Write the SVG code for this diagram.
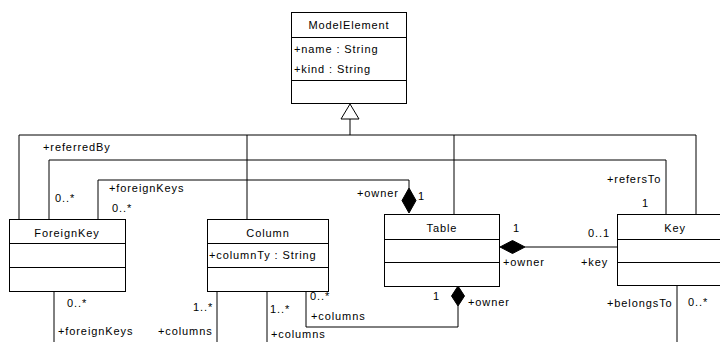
<svg xmlns="http://www.w3.org/2000/svg" width="720" height="342" viewBox="0 0 720 342">
<style>
.box{fill:#fff;stroke:#000;stroke-width:1}
.ln{fill:none;stroke:#000;stroke-width:1}
.dm{fill:#000;stroke:#000;stroke-width:1}
text{font-family:"Liberation Sans",Arial,sans-serif;font-size:11px;letter-spacing:0.9px;fill:#000}
.c{text-anchor:middle}
</style>
<rect width="720" height="342" fill="#fff"/>
<g id="connectors">
<path class="ln" d="M350,119 V135 M19,219 V135 H696 V214 M247,135 V219 M454,135 V214"/>
<path class="ln" d="M49,219 V160 H666 V214"/>
<path class="ln" d="M98,219 V180 H409 V188"/>
<polygon class="dm" points="409,188 416,200.5 409,213 402,200.5"/>
<polygon fill="#fff" stroke="#000" points="350,104 359,119 341,119"/>
<path class="ln" d="M525,247 H617"/>
<polygon class="dm" points="500,247 512.5,240.5 525,247 512.5,253.5"/>
<path class="ln" d="M306,291 V327 H458 V306"/>
<polygon class="dm" points="458,286 464.5,296 458,306 451.5,296"/>
<path class="ln" d="M54,291 V342 M217,291 V342 M267,291 V342 M677,286 V342"/>
</g>
<g id="ModelElement">
<rect class="box" x="291.5" y="12.5" width="115" height="91"/>
<path class="ln" d="M291.5,37.5 H406.5 M291.5,80.5 H406.5"/>
<text class="c" x="349" y="29">ModelElement</text>
<text x="294" y="53">+name : String</text>
<text x="294" y="73">+kind : String</text>
</g>
<g id="ForeignKey">
<rect class="box" x="9.5" y="219.5" width="116" height="72"/>
<path class="ln" d="M9.5,243.5 H125.5 M9.5,267.5 H125.5"/>
<text class="c" x="67" y="237">ForeignKey</text>
</g>
<g id="Column">
<rect class="box" x="207.5" y="219.5" width="121" height="72"/>
<path class="ln" d="M207.5,243.5 H328.5 M207.5,267.5 H328.5"/>
<text class="c" x="268" y="237">Column</text>
<text x="209" y="259">+columnTy : String</text>
</g>
<g id="Table">
<rect class="box" x="384.5" y="214.5" width="115" height="72"/>
<path class="ln" d="M384.5,239.5 H499.5 M384.5,262.5 H499.5"/>
<text class="c" x="442" y="232">Table</text>
</g>
<g id="Key">
<rect class="box" x="617.5" y="214.5" width="115" height="71"/>
<path class="ln" d="M617.5,239.5 H732.5 M617.5,262.5 H732.5"/>
<text class="c" x="675" y="232">Key</text>
</g>
<g id="labels">
<text x="43" y="151">+referredBy</text>
<text x="55" y="202">0..*</text>
<text x="109" y="192">+foreignKeys</text>
<text x="112" y="212">0..*</text>
<text x="357" y="197">+owner</text>
<text x="418" y="200">1</text>
<text x="607" y="183">+refersTo</text>
<text x="642" y="207">1</text>
<text x="513" y="232">1</text>
<text x="588" y="237">0..1</text>
<text x="503" y="266">+owner</text>
<text x="581" y="266">+key</text>
<text x="607" y="307">+belongsTo</text>
<text x="688" y="306">0..*</text>
<text x="67" y="307">0..*</text>
<text x="58" y="335">+foreignKeys</text>
<text x="193" y="311">1..*</text>
<text x="158" y="335">+columns</text>
<text x="270" y="313">1..*</text>
<text x="271" y="338">+columns</text>
<text x="310" y="300">0..*</text>
<text x="311" y="320">+columns</text>
<text x="433" y="300">1</text>
<text x="468" y="306">+owner</text>
</g>
</svg>
